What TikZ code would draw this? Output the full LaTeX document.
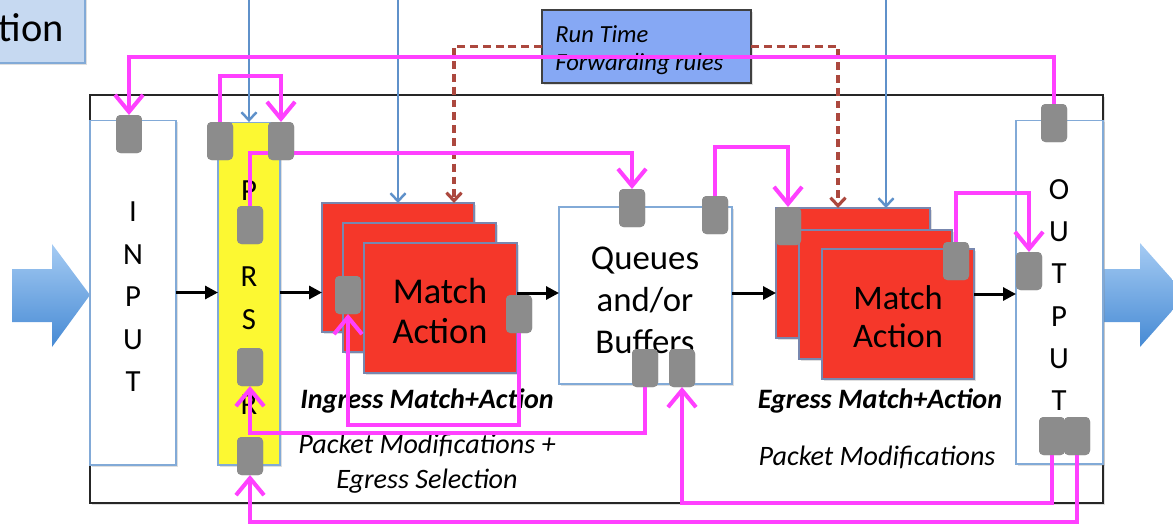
\documentclass[tikz,border=0pt]{standalone}
\usepackage{fontspec}
\setmainfont{Carlito}
\usetikzlibrary{arrows.meta,shadows,calc}
\definecolor{pk}{RGB}{255,64,255}
\definecolor{gblk}{RGB}{140,140,140}
\definecolor{bln}{RGB}{95,145,202}
\definecolor{drd}{RGB}{172,72,62}
\definecolor{mred}{RGB}{245,55,42}
\definecolor{pyel}{RGB}{252,248,50}
\definecolor{rtblue}{RGB}{134,168,244}
\definecolor{tionbg}{RGB}{198,217,241}
\definecolor{thinblue}{RGB}{130,170,215}
\definecolor{rededge}{RGB}{120,135,175}
\definecolor{arrtop}{RGB}{165,203,243}
\definecolor{arrbot}{RGB}{70,138,212}
\begin{document}
\begin{tikzpicture}[x=0.02cm,y=-0.02cm,
  shd/.style={drop shadow={opacity=0.25,shadow xshift=1.2pt,shadow yshift=-1.2pt}},
  blk/.style={rectangle,inner sep=0pt,outer sep=0pt},
  whitebox/.style={blk,fill=white,draw=thinblue,line width=0.6pt,shd},
  redbox/.style={blk,fill=mred,draw=rededge,line width=0.6pt,shd},
  gblock/.style={blk,fill=gblk,rounded corners=2.5pt,minimum width=0.52cm,minimum height=0.76cm},
  letter/.style={inner sep=0pt,font=\fontsize{17.5}{20}\selectfont},
  pkline/.style={draw=pk,line width=2.3pt},
  pkarrow/.style={pkline,-{Straight Barb[length=0.34cm,width=0.56cm]}},
  blueln/.style={draw=bln,line width=1.4pt,-{Straight Barb[length=0.16cm,width=0.3cm]}},
  dashln/.style={draw=drd,line width=1.8pt,dash pattern=on 4.5pt off 2.8pt,-{Straight Barb[length=0.16cm,width=0.3cm]}},
  flow/.style={draw=black,line width=1.7pt,-{Triangle[length=0.26cm,width=0.26cm]}},
  lbl/.style={inner sep=0pt,anchor=base}]
\useasboundingbox (0,0) rectangle (1173,528);
\clip (0,0) rectangle (1173,528);

% title fragment in the corner
\node[blk,fill=tionbg,draw=thinblue,line width=0.8pt,shd,minimum width=2.1cm,minimum height=1.66cm] (tionbox) at (32.5,21.5) {};
\node[inner sep=0pt,anchor=base east,font=\fontsize{23}{26}\selectfont] (tiontxt) at (64,41) {tion};

% outer frame
\node[blk,draw=black!85,line width=1pt,fill=white,shd,minimum width=20.26cm,minimum height=8.16cm] (frame) at (596.5,299) {};

% big in/out arrows
\path[top color=arrtop,bottom color=arrbot] (12,269) -- (52,269) -- (52,244) -- (90,295) -- (52,347) -- (52,322) -- (12,322) -- cycle;
\path[top color=arrtop,bottom color=arrbot] (1103,269) -- (1140,269) -- (1140,243) -- (1186,295) -- (1140,347) -- (1140,322) -- (1103,322) -- cycle;

% pipeline blocks
\node[whitebox,minimum width=1.72cm,minimum height=6.9cm] (input) at (133,292.5) {};
\node[blk,fill=pyel,draw=thinblue,line width=0.6pt,shd,minimum width=1.24cm,minimum height=6.86cm] (parser) at (249,293.5) {};
\node[redbox,minimum width=3.04cm,minimum height=2.58cm] (ingBack) at (398,267.5) {};
\node[redbox,minimum width=3.06cm,minimum height=2.58cm] (ingMid) at (419.5,287.5) {};
\node[redbox,minimum width=3.06cm,minimum height=2.6cm] (ingFront) at (440.5,308) {};
\node[whitebox,minimum width=3.46cm,minimum height=3.54cm] (queues) at (645.5,295.5) {};
\node[redbox,minimum width=3.08cm,minimum height=2.6cm] (egBack) at (853,273) {};
\node[redbox,minimum width=3.06cm,minimum height=2.58cm] (egMid) at (875.5,294.5) {};
\node[redbox,minimum width=3.04cm,minimum height=2.6cm] (egFront) at (898,314) {};
\node[whitebox,minimum width=1.74cm,minimum height=6.88cm] (output) at (1059.5,292) {};

% block texts
\foreach \c/\y [count=\i] in {I/212,N/255,P/297,U/340,T/382}
  \node[letter] (inL\i) at (133,\y) {\c};
\foreach \c/\y [count=\i] in {P/191,A/226,R/277,S/320,E/366,R/405}
  \node[letter] (paL\i) at (249,\y) {\c};
\foreach \c/\y [count=\i] in {O/190,U/232,T/274,P/317,U/359,T/401}
  \node[letter] (outL\i) at (1059,\y) {\c};
\node[inner sep=0pt,align=center,font=\fontsize{20.7}{22.5}\selectfont] (ingTxt) at (440,311) {Match\\Action};
\node[inner sep=0pt,align=center,font=\fontsize{19.8}{24}\selectfont] (qTxt) at (645,300) {Queues\\and/or\\Buffers};
\node[inner sep=0pt,align=center,font=\fontsize{19.6}{21.8}\selectfont] (egTxt) at (898,316.5) {Match\\Action};

% captions
\node[lbl,font=\fontsize{16}{18}\selectfont\bfseries\itshape] (ingCap) at (427,408) {Ingress Match+Action};
\node[lbl,font=\fontsize{16}{18}\selectfont\bfseries\itshape] (egCap) at (880,408) {Egress Match+Action};
\node[lbl,font=\fontsize{16}{18}\selectfont\itshape] (ingMod1) at (427,453) {Packet Modifications +};
\node[lbl,font=\fontsize{16}{18}\selectfont\itshape] (ingMod2) at (427,488) {Egress Selection};
\node[lbl,font=\fontsize{16}{18}\selectfont\itshape] (egMod) at (877,465) {Packet Modifications};

% control-plane feeds from above
\coordinate (b1) at (249,0);
\coordinate (b2) at (398,0);
\coordinate (b3) at (886,0);
\draw[blueln] (b1) -- (parser.north);
\draw[blueln] (b2) -- (ingBack.north);
\draw[blueln] (b3) -- (b3 |- egBack.north);

% run time rules
\node[blk,fill=rtblue,draw=black!75,line width=0.7pt,shd,minimum width=4.18cm,minimum height=1.46cm] (rt) at (646.5,46.5) {};
\node[inner sep=0pt,anchor=base west,font=\fontsize{14}{16}\selectfont\itshape] (rt1) at (555,42) {Run Time};
\node[inner sep=0pt,anchor=base west,font=\fontsize{14}{16}\selectfont\itshape] (rt2) at (555,70) {Forwarding rules};
\coordinate (d1) at (454,0);
\coordinate (d2) at (838,0);
\draw[dashln] (rt.west) -| (d1 |- ingBack.north);
\draw[dashln] (rt.east) -| (d2 |- egBack.north);

% packet flow
\draw[flow] (input.east) -- (parser.west |- input.east);
\draw[flow] (parser.east |- input.east) -- (ingBack.west |- input.east);
\draw[flow] (ingFront.east |- 0,293) -- (queues.west |- 0,293);
\draw[flow] (queues.east |- 0,293) -- (egBack.west |- 0,293);
\draw[flow] (egFront.east |- 0,294) -- (output.west |- 0,294);

% tap points
\node[gblock] (gIn) at (129,134) {};
\node[gblock] (gOutTop) at (1054,123) {};
\node[gblock] (gPL) at (220,141) {};
\node[gblock] (gPR) at (281,141) {};
\node[gblock] (gPP) at (250,225) {};
\node[gblock] (gPE) at (250,367) {};
\node[gblock] (gPB) at (250,456) {};
\node[gblock] (gIML) at (348,295) {};
\node[gblock] (gIMR) at (519,314) {};
\node[gblock] (gQT1) at (632,208) {};
\node[gblock] (gQT2) at (715,215) {};
\node[gblock] (gQB1) at (645,368) {};
\node[gblock] (gQB2) at (682,368) {};
\node[gblock] (gEM) at (788,226) {};
\node[gblock] (gEMR) at (956,261) {};
\node[gblock] (gOL) at (1029,271) {};
\node[gblock] (gOB1) at (1052,436) {};
\node[gblock] (gOB2) at (1077,436) {};

% recirculation paths
\coordinate (k1) at (129,57);
\coordinate (k2) at (281,76);
\coordinate (k3) at (632,153);
\coordinate (k4) at (788,147);
\coordinate (k5) at (1029,193);
\coordinate (k6) at (348,425);
\coordinate (k7) at (250,433);
\coordinate (k8) at (682,503);
\coordinate (k9) at (250,522);
\draw[pkarrow] (gOutTop.north) |- (k1) -- (gIn.north);
\draw[pkarrow] (gPL.north) |- (k2) -- (gPR.north);
\draw[pkarrow] (gPP.north) |- (k3) -- (gQT1.north);
\draw[pkarrow] (gQT2.north) |- (k4) -- (gEM.north);
\draw[pkarrow] (gEMR.north) |- (k5) -- (gOL.north);
\draw[pkarrow] (gIMR.south) |- (k6) -- (gIML.south);
\draw[pkarrow] (gQB1.south) |- (k7) -- (gPE.south);
\draw[pkarrow] (gOB1.south) |- (k8) -- (gQB2.south);
\draw[pkarrow] (gOB2.south) |- (k9) -- (gPB.south);

% redraw tap points above the paths
\foreach \n in {gIn,gOutTop,gPL,gPR,gPP,gPE,gPB,gIML,gIMR,gQT1,gQT2,gQB1,gQB2,gEM,gEMR,gOL,gOB1,gOB2}
  \fill[gblk,rounded corners=2.5pt] (\n.south west) rectangle (\n.north east);
\end{tikzpicture}
\end{document}
